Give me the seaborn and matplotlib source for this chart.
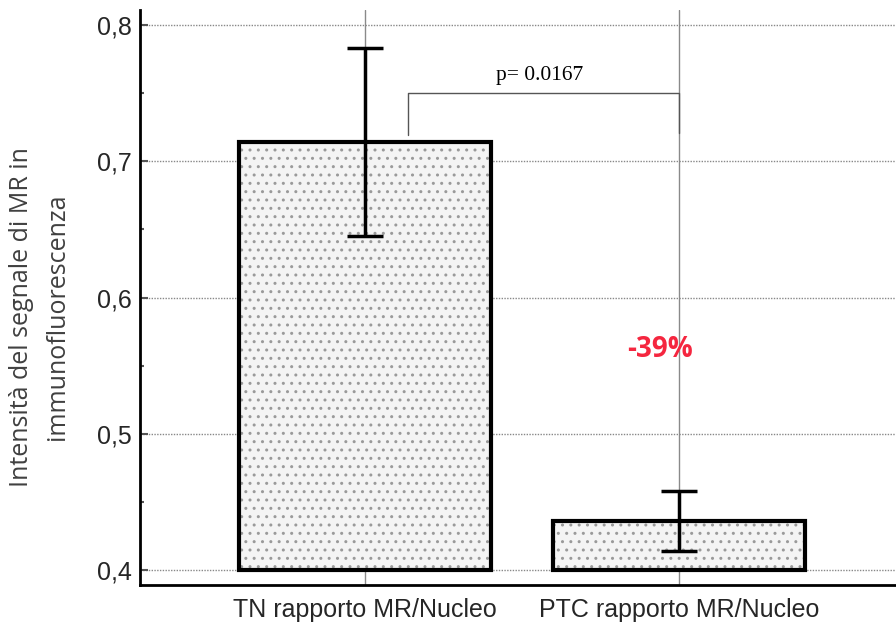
import numpy as np
import pandas as pd
import seaborn as sns
import matplotlib.pyplot as plt

# data
categories = ["TN rapporto MR/Nucleo", "PTC rapporto MR/Nucleo"]
means = [0.714, 0.436]
errors = [0.069, 0.022]
base = 0.4
ytick_vals = [0.4, 0.5, 0.6, 0.7, 0.8]
ytick_labels = ["0,4", "0,5", "0,6", "0,7", "0,8"]
p_label = "p= 0.0167"
diff_label = "-39%"

df = pd.DataFrame({"group": categories, "value": means})

sns.set_theme(style="white")
plt.rcParams['font.family'] = ['Liberation Sans', 'DejaVu Sans']

fig = plt.figure(figsize=(8.96, 6.3), dpi=100)
ax = fig.add_axes([140 / 896, 45 / 630, 1 - 140 / 896, 575 / 630])

# dotted texture layer
sns.barplot(data=df, x="group", y="value", errorbar=None, width=0.8,
            color="#f4f4f4", edgecolor="#9a9a9a", linewidth=0, hatch="..",
            ax=ax)
# outline layer
sns.barplot(data=df, x="group", y="value", errorbar=None, width=0.8,
            fill=False, edgecolor="black", linewidth=3, ax=ax)

# bars start at 0.4 like in the reference
for patch in ax.patches:
    top = patch.get_y() + patch.get_height()
    patch.set_y(base)
    patch.set_height(top - base)

# grid behind the bars (after seaborn, which switches the categorical grid off)
ax.set_axisbelow(True)
ax.yaxis.grid(True, color="#888888", linestyle=(0, (1, 1)), linewidth=1)
ax.xaxis.grid(True, color="#8a8a8a", linestyle="-", linewidth=1)

ax.errorbar(range(len(means)), means, yerr=errors, fmt="none",
            ecolor="black", elinewidth=2.5, capsize=13, capthick=2.5, zorder=5)

ax.set_ylim(0.389, 0.811)
ax.set_xlim(-0.7166, 1.691)
ax.set_yticks(ytick_vals, ytick_labels, fontsize=18)
ax.set_yticks(np.arange(0.45, 0.8, 0.1), minor=True)
ax.tick_params(axis="y", which="major", direction="in", length=6, width=1.5,
               color="#555555", left=True, pad=6)
ax.tick_params(axis="y", which="minor", direction="in", length=3, width=1.5,
               color="#555555", left=True)
ax.tick_params(axis="x", length=0, labelsize=18, pad=9)
ax.set_xlabel("")
ax.set_ylabel("Intensità del segnale di MR in\nimmunofluorescenza",
              fontsize=18, color="#404040", family=["Open Sans", "DejaVu Sans"],
              linespacing=1.55)
ax.yaxis.set_label_coords(-0.093, 0.466)

for side in ["top", "right"]:
    ax.spines[side].set_visible(False)
for side in ["left", "bottom"]:
    ax.spines[side].set_color("black")
    ax.spines[side].set_linewidth(2)

# significance bracket
ax.plot([0.137, 0.137, 1.0, 1.0], [0.7195, 0.75, 0.75, 0.7205],
        color="#555555", linewidth=1, zorder=4)
ax.text(0.557, 0.763, p_label, ha="center", va="center", fontsize=15.5,
        family=["Liberation Serif", "DejaVu Serif"], color="black")
ax.text(0.94, 0.5615, diff_label, ha="center", va="center", fontsize=20,
        fontweight="bold", color="#f5263f", family=["Open Sans", "DejaVu Sans"])

fig.savefig("out.png", dpi=100)
